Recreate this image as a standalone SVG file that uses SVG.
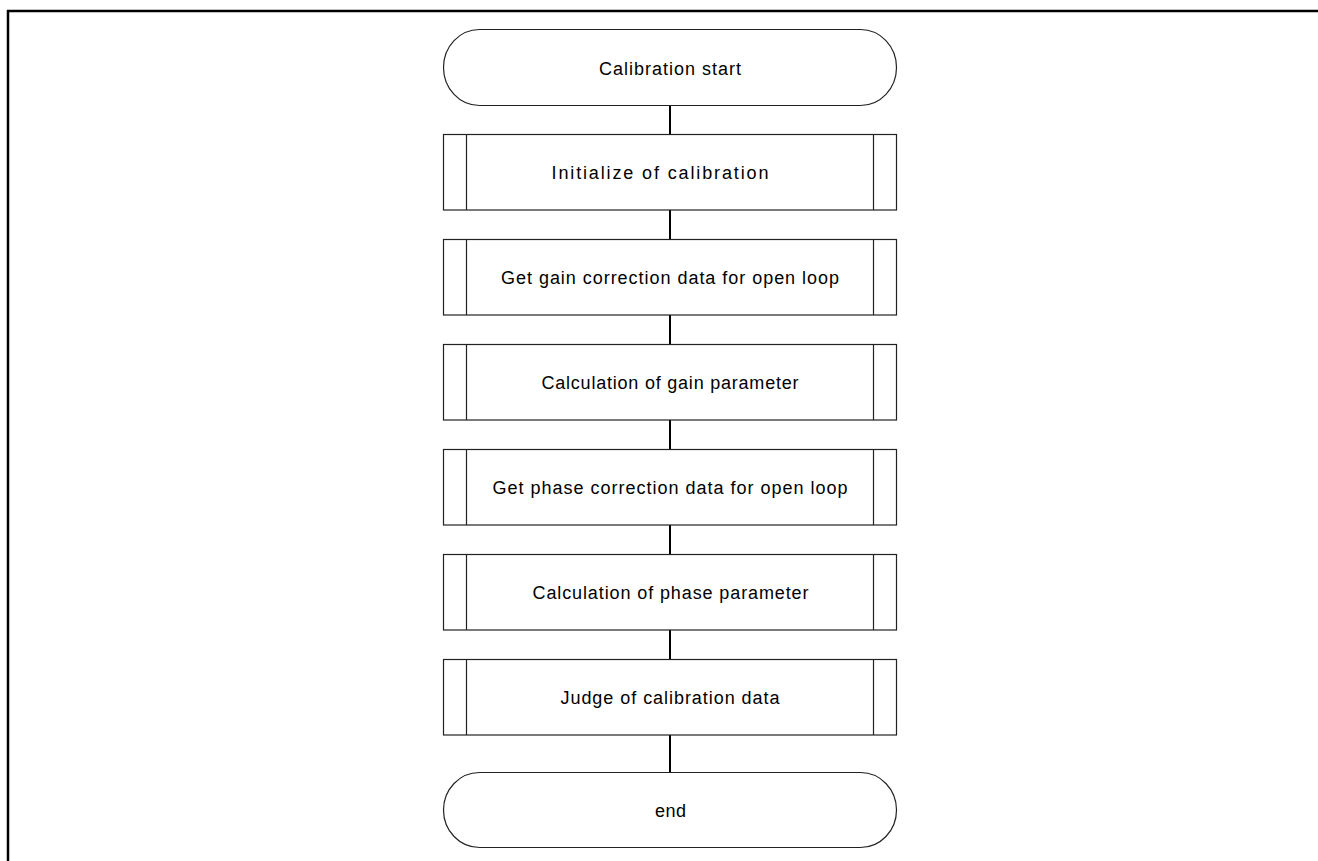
<svg xmlns="http://www.w3.org/2000/svg" width="1318" height="861" viewBox="0 0 1318 861">
<style>
.frame{stroke:#000;stroke-width:2.5;fill:none}
.term{fill:#fff;stroke:#222;stroke-width:1.2}
.box{fill:#fff;stroke:#222;stroke-width:1.2}
.bar{stroke:#222;stroke-width:1.2}
.conn{stroke:#000;stroke-width:2;fill:none}
.lbl{font-family:"Liberation Sans","Noto Sans CJK JP",sans-serif;font-size:18px;fill:#000;text-anchor:middle}
</style>
<rect width="1318" height="861" fill="#fff"/>
<g id="frame">
<line class="frame" x1="7" y1="11" x2="1318" y2="11"/>
<line class="frame" x1="8" y1="10" x2="8" y2="861"/>
</g>
<g id="connectors">
<line class="conn" x1="670" y1="105.5" x2="670" y2="134.5"/>
<line class="conn" x1="670" y1="210" x2="670" y2="239.5"/>
<line class="conn" x1="670" y1="315" x2="670" y2="344.5"/>
<line class="conn" x1="670" y1="420" x2="670" y2="449.5"/>
<line class="conn" x1="670" y1="525" x2="670" y2="554.5"/>
<line class="conn" x1="670" y1="630" x2="670" y2="659.5"/>
<line class="conn" x1="670" y1="735" x2="670" y2="772.5"/>
</g>
<g id="start">
<rect class="term" x="443.5" y="29.5" width="453" height="76" rx="36" ry="38"/>
<text class="lbl" x="670" y="74.5" textLength="142" lengthAdjust="spacing">Calibration start</text>
</g>
<g id="init">
<rect class="box" x="443.5" y="134.5" width="453" height="75.5"/>
<line class="bar" x1="466.5" y1="134.5" x2="466.5" y2="210"/>
<line class="bar" x1="873.5" y1="134.5" x2="873.5" y2="210"/>
<text class="lbl" x="660" y="179" textLength="217" lengthAdjust="spacing">Initialize of calibration</text>
</g>
<g id="gain-data">
<rect class="box" x="443.5" y="239.5" width="453" height="75.5"/>
<line class="bar" x1="466.5" y1="239.5" x2="466.5" y2="315"/>
<line class="bar" x1="873.5" y1="239.5" x2="873.5" y2="315"/>
<text class="lbl" x="670" y="284" textLength="338" lengthAdjust="spacing">Get gain correction data for open loop</text>
</g>
<g id="gain-calc">
<rect class="box" x="443.5" y="344.5" width="453" height="75.5"/>
<line class="bar" x1="466.5" y1="344.5" x2="466.5" y2="420"/>
<line class="bar" x1="873.5" y1="344.5" x2="873.5" y2="420"/>
<text class="lbl" x="670" y="389" textLength="257" lengthAdjust="spacing">Calculation of gain parameter</text>
</g>
<g id="phase-data">
<rect class="box" x="443.5" y="449.5" width="453" height="75.5"/>
<line class="bar" x1="466.5" y1="449.5" x2="466.5" y2="525"/>
<line class="bar" x1="873.5" y1="449.5" x2="873.5" y2="525"/>
<text class="lbl" x="670" y="494" textLength="355" lengthAdjust="spacing">Get phase correction data for open loop</text>
</g>
<g id="phase-calc">
<rect class="box" x="443.5" y="554.5" width="453" height="75.5"/>
<line class="bar" x1="466.5" y1="554.5" x2="466.5" y2="630"/>
<line class="bar" x1="873.5" y1="554.5" x2="873.5" y2="630"/>
<text class="lbl" x="670.5" y="599" textLength="276" lengthAdjust="spacing">Calculation of phase parameter</text>
</g>
<g id="judge">
<rect class="box" x="443.5" y="659.5" width="453" height="75.5"/>
<line class="bar" x1="466.5" y1="659.5" x2="466.5" y2="735"/>
<line class="bar" x1="873.5" y1="659.5" x2="873.5" y2="735"/>
<text class="lbl" x="670" y="704" textLength="219" lengthAdjust="spacing">Judge of calibration data</text>
</g>
<g id="end">
<rect class="term" x="443.5" y="772.5" width="453" height="75" rx="36" ry="37.5"/>
<text class="lbl" x="670.5" y="817" textLength="31" lengthAdjust="spacing">end</text>
</g>
</svg>
